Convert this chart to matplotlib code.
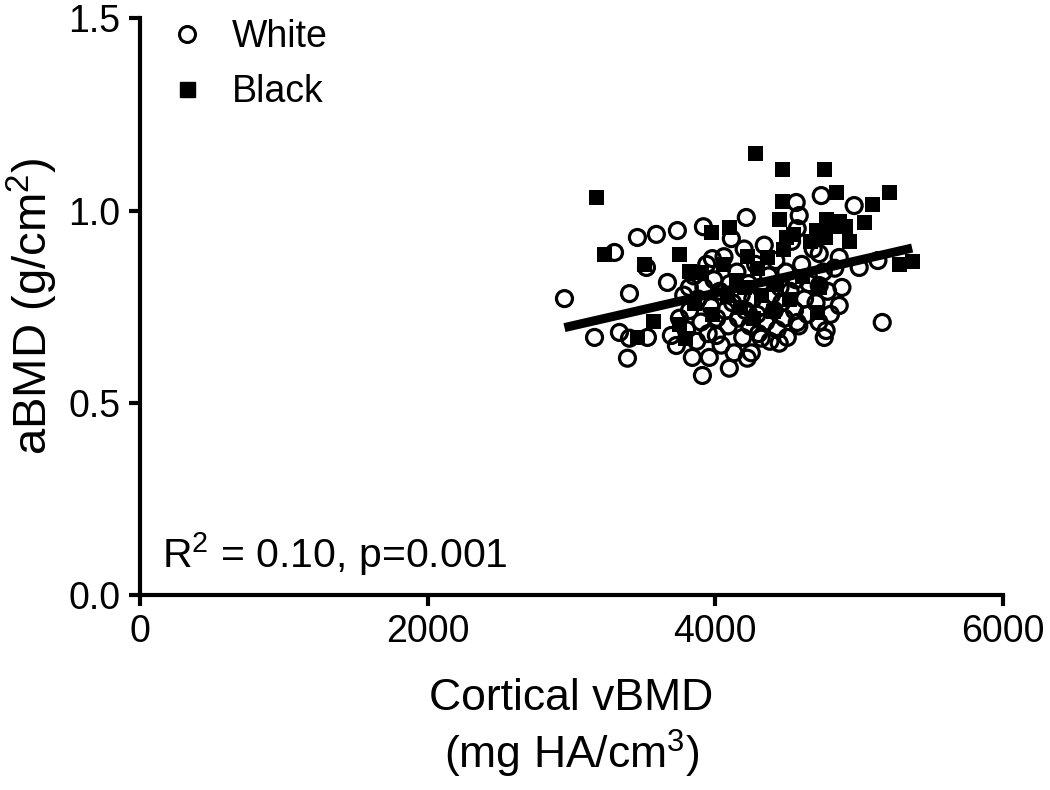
import matplotlib
matplotlib.use("Agg")
import matplotlib.pyplot as plt
import numpy as np
from matplotlib.lines import Line2D

plt.rcParams['font.family'] = ['Liberation Sans', 'DejaVu Sans']
plt.rcParams['mathtext.fontset'] = 'custom'
plt.rcParams['mathtext.rm'] = 'Liberation Sans'

white_x = [2951, 3160, 3299, 3333, 3389, 3403, 3403, 3458, 3521, 3528, 3590, 3667, 3694, 3729,
           3736, 3819, 3840, 3910, 3917, 3958, 3979, 4007, 4097, 4111, 4215, 4222, 4319, 4444,
           4562, 4569, 4569, 4583, 4722, 4722, 4736, 4757, 4770, 4861, 4861, 4965, 5000, 5160, 5130,
           3750, 3780, 3800, 3820, 3850, 3870, 3880, 3900, 3920, 3940, 3950, 3970, 3990, 4010,
           4030, 4040, 4060, 4070, 4090, 4100, 4120, 4130, 4150, 4160, 4180, 4190, 4200, 4210,
           4230, 4240, 4250, 4260, 4280, 4290, 4300, 4310, 4330, 4340, 4350, 4370, 4380, 4390,
           4410, 4420, 4430, 4450, 4460, 4480, 4490, 4500, 4520, 4530, 4550, 4560, 4580, 4600,
           4620, 4640, 4650, 4680, 4700, 4720, 4750, 4780, 4800, 4830, 4880]
white_y = [0.771, 0.670, 0.891, 0.683, 0.616, 0.668, 0.784, 0.930, 0.852, 0.670, 0.938, 0.813, 0.675, 0.649,
           0.948, 0.800, 0.618, 0.571, 0.958, 0.618, 0.875, 0.675, 0.590, 0.927, 0.982, 0.616, 0.668, 0.655,
           1.021, 0.709, 0.953, 0.987, 0.888, 0.805, 1.039, 0.670, 0.688, 0.878, 0.753, 1.013, 0.852, 0.709, 0.870,
           0.72, 0.78, 0.69, 0.74, 0.83, 0.66, 0.77, 0.71, 0.80, 0.86, 0.68, 0.75, 0.82, 0.72,
           0.79, 0.65, 0.88, 0.74, 0.70, 0.81, 0.76, 0.63, 0.84, 0.72, 0.78, 0.67, 0.90, 0.74,
           0.81, 0.70, 0.63, 0.77, 0.86, 0.73, 0.68, 0.80, 0.75, 0.91, 0.71, 0.83, 0.66, 0.78,
           0.74, 0.87, 0.69, 0.80, 0.76, 0.72, 0.84, 0.67, 0.79, 0.92, 0.74, 0.82, 0.70, 0.86,
           0.77, 0.73, 0.81, 0.90, 0.76, 0.71, 0.84, 0.79, 0.73, 0.85, 0.80]

black_x = [3167, 3229, 3458, 3507, 3563, 3750, 3750, 3972, 4097, 4278, 4465, 4757, 4465, 4840,
           5090, 5208, 4444, 4770, 4861, 5034, 4493, 4930, 4222, 5368, 5278, 4708, 4720, 3819, 3792,
           3850, 3900, 3980, 4050, 4080, 4140, 4170, 4200, 4260, 4290, 4320, 4360, 4400, 4420,
           4470, 4510, 4540, 4600, 4660, 4700, 4760, 4800, 4900]
black_y = [1.034, 0.888, 0.670, 0.862, 0.714, 0.888, 0.706, 0.943, 0.958, 1.151, 1.109, 1.109, 1.026, 1.047,
           1.018, 1.047, 0.979, 0.979, 0.974, 0.969, 0.930, 0.922, 0.883, 0.870, 0.862, 0.735, 0.800, 0.844, 0.668,
           0.76, 0.84, 0.73, 0.86, 0.78, 0.82, 0.75, 0.80, 0.72, 0.85, 0.78, 0.88, 0.74, 0.81,
           0.90, 0.77, 0.94, 0.83, 0.92, 0.95, 0.93, 0.96, 0.96]

fit_intercept = 0.443
fit_slope = 0.0000856

xticks = [0, 2000, 4000, 6000]
yticks = [0.0, 0.5, 1.0, 1.5]

fig = plt.figure(figsize=(10.5, 7.9), dpi=100)
ax = fig.add_axes([0.1333, 0.2468, 0.822, 0.730])

ax.scatter(white_x, white_y, s=11.5**2, marker='o', facecolors='none', edgecolors='black',
           linewidths=2.3, zorder=2)
ax.scatter(black_x, black_y, s=10.8**2, marker='s', color='black', linewidths=0, zorder=3)

allx = np.array(white_x + black_x)
lx = np.array([allx.min(), allx.max()])
ax.plot(lx, fit_intercept + fit_slope * lx, color='black', lw=6.5, solid_capstyle='butt', zorder=4)

ax.set_xlim(0, 6000)
ax.set_ylim(0, 1.5)
ax.set_xticks(xticks)
ax.set_xticklabels([str(t) for t in xticks])
ax.set_yticks(yticks)
ax.set_yticklabels([f"{t:.1f}" for t in yticks])
for s in ['top', 'right']:
    ax.spines[s].set_visible(False)
for s in ['left', 'bottom']:
    ax.spines[s].set_linewidth(3)
ax.tick_params(direction='out', length=8, width=3, labelsize=27, pad=6)

ax.set_ylabel(r'aBMD (g/cm$^2$)', fontsize=34, labelpad=6)
ax.set_xlabel('Cortical vBMD\n' + r'(mg HA/cm$^3$)', fontsize=32, labelpad=20, linespacing=1.2)

ax.text(0.025, 0.047, r'R$^2$ = 0.10, p=0.001', transform=ax.transAxes, fontsize=29.5,
        va='baseline', ha='left')

handles = [Line2D([], [], marker='o', ls='none', mfc='none', mec='black', mew=2.2, ms=11.5),
           Line2D([], [], marker='s', ls='none', color='black', ms=10.8)]
ax.legend(handles, ['White', 'Black'], loc='upper left', bbox_to_anchor=(-0.011, 1.057),
          frameon=False, fontsize=27, handletextpad=0.6, labelspacing=0.5, handlelength=1.2)

fig.savefig('out.png', dpi=100, facecolor='white')
